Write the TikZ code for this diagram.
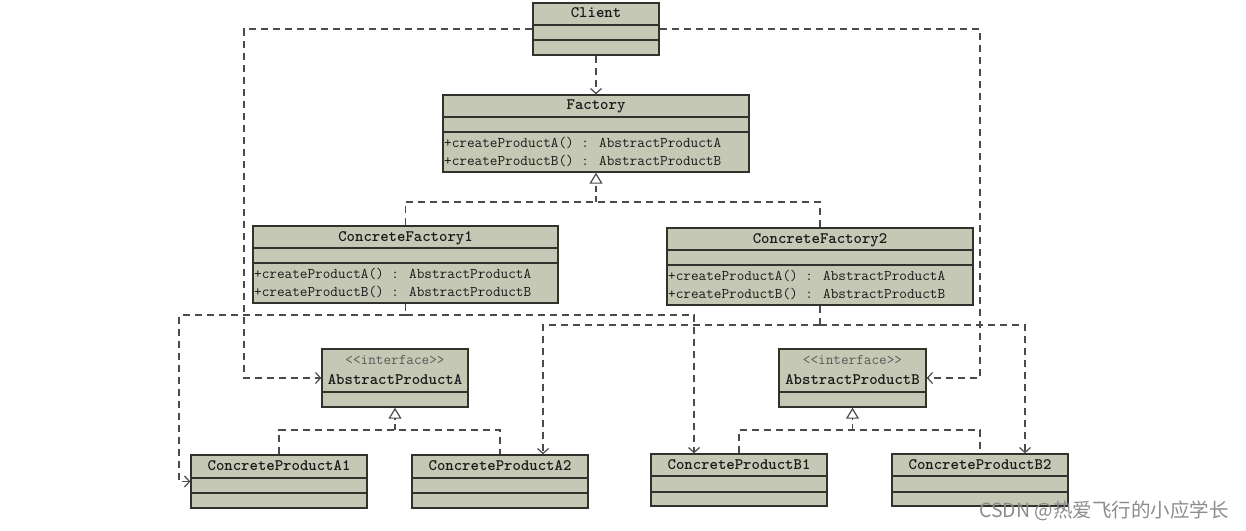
\documentclass[tikz,border=0pt]{standalone}
\usepackage{fontspec}
\newfontfamily\cjkfont{Noto Sans CJK SC}
\usetikzlibrary{arrows.meta,fit}
\definecolor{boxfill}{RGB}{196,200,180}
\definecolor{boxline}{RGB}{50,50,45}
\definecolor{conn}{RGB}{75,75,75}
\begin{document}
\begin{tikzpicture}[x=1pt,y=-1pt,
 cls/.style={draw=boxline, line width=1.4pt, fill=boxfill, inner sep=0pt, rectangle},
 sepline/.style={draw=boxline, line width=1.2pt},
 ttl/.style={font=\ttfamily\fontsize{16}{16}\selectfont\bfseries, text=black!90, inner sep=0pt},
 meth/.style={font=\ttfamily\fontsize{14.8}{15}\selectfont, text=black!90, anchor=west, inner sep=0pt},
 stereo/.style={font=\ttfamily\fontsize{14.8}{15}\selectfont, text=black!65, inner sep=0pt},
 dep/.style={draw=conn, line width=1.2pt, dash pattern=on 7pt off 5pt, -{Straight Barb[length=5pt,width=11pt]}},
 dline/.style={draw=conn, line width=1.2pt, dash pattern=on 7pt off 5pt},
 real/.style={draw=conn, line width=1.2pt, dash pattern=on 6pt off 4pt, -{Triangle[open,length=11pt,width=13pt,fill=white]}},
]
\fill[white] (0,0) rectangle (1246,530);
\useasboundingbox (0,0) rectangle (1246,530);

% Client
\node[cls, fit={(533,3) (659,55)}] (client) {};
\draw[sepline] (533,25) -- (659,25);
\draw[sepline] (533,40) -- (659,40);
\node[ttl] (clientT) at (596,13) {Client};

% Factory
\node[cls, fit={(443,95) (749,172)}] (factory) {};
\draw[sepline] (443,117) -- (749,117);
\draw[sepline] (443,132) -- (749,132);
\node[ttl] (factoryT) at (596,106) {Factory};
\node[meth] (factoryM1) at (444,143) {+createProductA() : AbstractProductA};
\node[meth] (factoryM2) at (444,161) {+createProductB() : AbstractProductB};

% ConcreteFactory1
\node[cls, fit={(253,226) (558,303)}] (cf1) {};
\draw[sepline] (253,248) -- (558,248);
\draw[sepline] (253,263) -- (558,263);
\node[ttl] (cf1T) at (405.5,238) {ConcreteFactory1};
\node[meth] (cf1M1) at (254,274) {+createProductA() : AbstractProductA};
\node[meth] (cf1M2) at (254,292) {+createProductB() : AbstractProductB};

% ConcreteFactory2
\node[cls, fit={(667,228) (973,305)}] (cf2) {};
\draw[sepline] (667,250) -- (973,250);
\draw[sepline] (667,265) -- (973,265);
\node[ttl] (cf2T) at (820,240) {ConcreteFactory2};
\node[meth] (cf2M1) at (668,276) {+createProductA() : AbstractProductA};
\node[meth] (cf2M2) at (668,294) {+createProductB() : AbstractProductB};

% AbstractProductA
\node[cls, fit={(322,349) (468,407)}] (apa) {};
\draw[sepline] (322,392) -- (468,392);
\node[stereo] (apaS) at (395,360) {<<interface>>};
\node[ttl] (apaT) at (395,380) {AbstractProductA};

% AbstractProductB
\node[cls, fit={(779,349) (926,407)}] (apb) {};
\draw[sepline] (779,392) -- (926,392);
\node[stereo] (apbS) at (852.5,360) {<<interface>>};
\node[ttl] (apbT) at (852.5,380) {AbstractProductB};

% Concrete products
\node[cls, fit={(191,455) (367,508)}] (cpa1) {};
\draw[sepline] (191,478) -- (367,478);
\draw[sepline] (191,493) -- (367,493);
\node[ttl] (cpa1T) at (279,466) {ConcreteProductA1};

\node[cls, fit={(412,455) (588,508)}] (cpa2) {};
\draw[sepline] (412,478) -- (588,478);
\draw[sepline] (412,493) -- (588,493);
\node[ttl] (cpa2T) at (500,466) {ConcreteProductA2};

\node[cls, fit={(651,454) (827,506)}] (cpb1) {};
\draw[sepline] (651,476) -- (827,476);
\draw[sepline] (651,492) -- (827,492);
\node[ttl] (cpb1T) at (739,465) {ConcreteProductB1};

\node[cls, fit={(892,454) (1068,506)}] (cpb2) {};
\draw[sepline] (892,476) -- (1068,476);
\draw[sepline] (892,492) -- (1068,492);
\node[ttl] (cpb2T) at (980,465) {ConcreteProductB2};

% Connectors
\coordinate (cL) at (244,378);
\coordinate (cR) at (980,378);
\draw[dep] (client.west) -| (cL) -- (apa.west);
\draw[dep] (client.east) -| (cR) -- (apb.east);
\draw[dep] (client.south) -- (factory.north);

\coordinate (fJ) at (596,202);
\draw[dline] (cf1.north) |- (fJ) -| (cf2.north);
\draw[real] (fJ) -- (factory.south);

\coordinate (j1) at (405.5,315);
\coordinate (a1L) at (179,481.5);
\draw[dline] (cf1.south) -- (j1);
\draw[dep] (j1) -| (a1L) -- (cpa1.west);
\draw[dep] (j1) -| ([xshift=-45pt]cpb1.north);

\coordinate (j2) at (820,325);
\draw[dline] (cf2.south) -- (j2);
\draw[dep] (j2) -| ([xshift=43pt]cpa2.north);
\draw[dep] (j2) -| ([xshift=45pt]cpb2.north);

\coordinate (aJ) at (395,430);
\draw[dline] (cpa1.north) |- (aJ) -| (cpa2.north);
\draw[real] (aJ) -- (apa.south);

\coordinate (bJ) at (852.5,430);
\draw[dline] (cpb1.north) |- (bJ) -| (cpb2.north);
\draw[real] (bJ) -- (apb.south);

% watermark
\node[font=\cjkfont\fontsize{19.5}{20}\selectfont, text=black!45, anchor=west, inner sep=0pt] (wm) at (979,511) {CSDN @热爱飞行的小应学长};
\end{tikzpicture}
\end{document}
